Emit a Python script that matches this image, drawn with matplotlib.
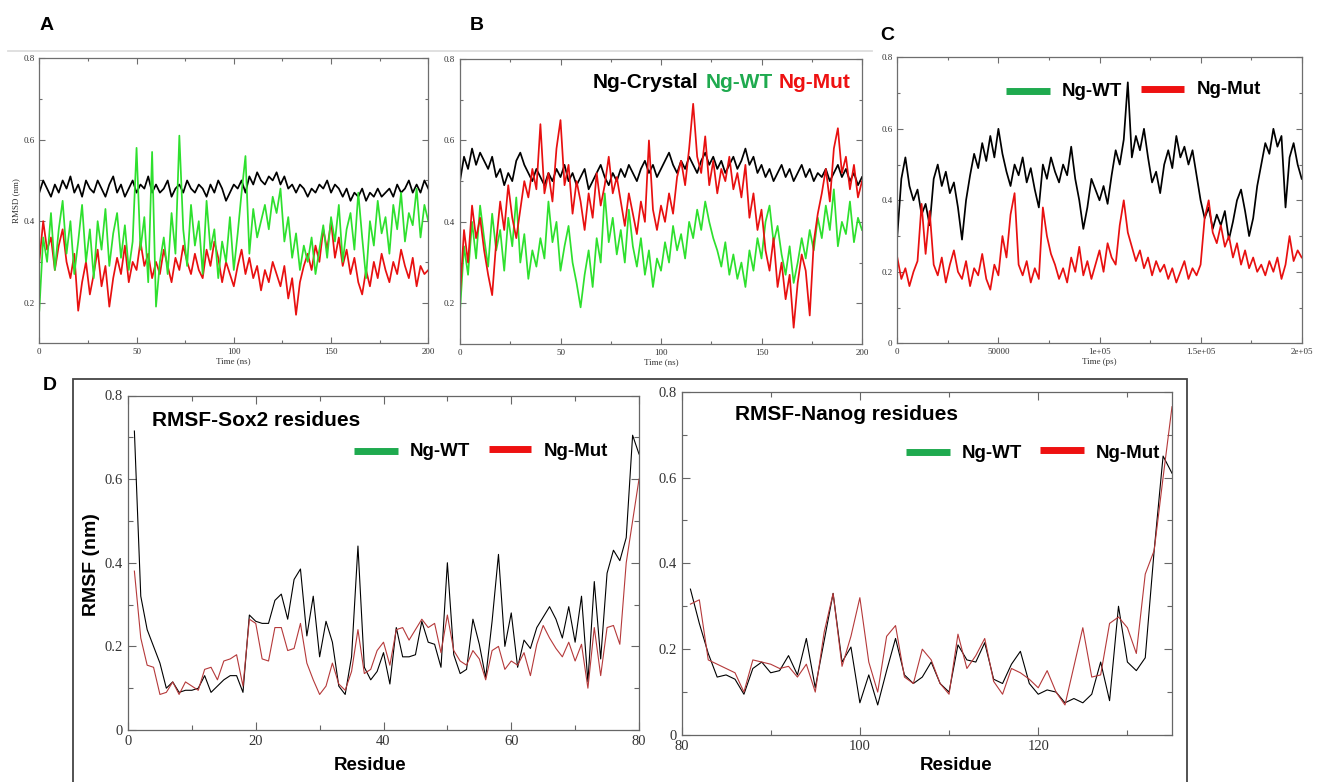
import matplotlib
matplotlib.use("Agg")
import matplotlib.pyplot as plt
import matplotlib.ticker as mticker
from matplotlib.patches import Rectangle
from matplotlib.lines import Line2D
import numpy as np

W, H = 1319, 782

# ---------------- data ----------------
time_ns = np.arange(0, 201, 2)          # panels A and B, 2 ns sampling
time_ps = np.arange(0, 200001, 2000)    # panel C, 2000 ps sampling

a_crystal = [0.47, 0.50, 0.48, 0.46, 0.49, 0.47, 0.50, 0.48, 0.51, 0.47,
             0.49, 0.46, 0.50, 0.48, 0.47, 0.50, 0.48, 0.46, 0.49, 0.51,
             0.47, 0.49, 0.46, 0.48, 0.50, 0.47, 0.49, 0.48, 0.51, 0.47,
             0.49, 0.47, 0.48, 0.50, 0.46, 0.48, 0.49, 0.47, 0.50, 0.48,
             0.47, 0.49, 0.48, 0.46, 0.49, 0.47, 0.50, 0.48, 0.45, 0.47,
             0.49, 0.48, 0.50, 0.47, 0.51, 0.49, 0.52, 0.50, 0.49, 0.51,
             0.50, 0.52, 0.49, 0.51, 0.48, 0.49, 0.47, 0.49, 0.48, 0.46,
             0.48, 0.47, 0.49, 0.48, 0.50, 0.47, 0.49, 0.48, 0.46, 0.48,
             0.45, 0.47, 0.46, 0.48, 0.45, 0.47, 0.46, 0.48, 0.46, 0.47,
             0.48, 0.46, 0.49, 0.47, 0.48, 0.50, 0.47, 0.49, 0.47, 0.50,
             0.48]
a_wt = [0.18, 0.36, 0.30, 0.42, 0.28, 0.38, 0.45, 0.32, 0.40, 0.27,
        0.35, 0.44, 0.30, 0.38, 0.26, 0.40, 0.33, 0.43, 0.29, 0.37,
        0.42, 0.31, 0.39, 0.28, 0.35, 0.58, 0.33, 0.41, 0.25, 0.57,
        0.19, 0.30, 0.36, 0.27, 0.42, 0.32, 0.61, 0.38, 0.29, 0.44,
        0.34, 0.40, 0.27, 0.45, 0.33, 0.38, 0.26, 0.35, 0.30, 0.41,
        0.28, 0.37, 0.47, 0.56, 0.32, 0.43, 0.36, 0.40, 0.44, 0.38,
        0.46, 0.42, 0.48, 0.35, 0.41, 0.31, 0.37, 0.28, 0.34, 0.30,
        0.36, 0.27, 0.33, 0.39, 0.31, 0.41, 0.35, 0.44, 0.30, 0.38,
        0.42, 0.33, 0.47, 0.36, 0.26, 0.40, 0.34, 0.45, 0.37, 0.41,
        0.32, 0.44, 0.38, 0.47, 0.35, 0.42, 0.39, 0.48, 0.36, 0.44,
        0.40]
a_mut = [0.30, 0.40, 0.33, 0.36, 0.28, 0.34, 0.38, 0.30, 0.26, 0.32,
         0.18, 0.25, 0.30, 0.22, 0.27, 0.33, 0.24, 0.29, 0.19, 0.26,
         0.31, 0.27, 0.34, 0.25, 0.30, 0.28, 0.35, 0.29, 0.32, 0.26,
         0.30, 0.27, 0.33, 0.29, 0.25, 0.31, 0.28, 0.34, 0.30, 0.27,
         0.32, 0.28, 0.26, 0.33, 0.29, 0.35, 0.31, 0.25, 0.30, 0.27,
         0.24, 0.29, 0.33, 0.27, 0.31, 0.26, 0.29, 0.23, 0.28, 0.25,
         0.30, 0.27, 0.24, 0.29, 0.21, 0.26, 0.17, 0.25, 0.29, 0.32,
         0.28, 0.34, 0.30, 0.38, 0.33, 0.40, 0.31, 0.36, 0.29, 0.33,
         0.27, 0.31, 0.25, 0.22, 0.28, 0.24, 0.30, 0.26, 0.32, 0.28,
         0.25, 0.30, 0.27, 0.33, 0.29, 0.26, 0.31, 0.24, 0.29, 0.27,
         0.28]

b_crystal = [0.50, 0.56, 0.53, 0.58, 0.54, 0.57, 0.55, 0.53, 0.56, 0.51,
             0.53, 0.49, 0.52, 0.50, 0.55, 0.57, 0.54, 0.52, 0.50, 0.53,
             0.51, 0.49, 0.52, 0.50, 0.53, 0.51, 0.54, 0.50, 0.52, 0.49,
             0.51, 0.53, 0.48, 0.50, 0.52, 0.54, 0.51, 0.49, 0.52, 0.50,
             0.53, 0.51, 0.54, 0.52, 0.50, 0.53, 0.55, 0.52, 0.54, 0.51,
             0.53, 0.55, 0.57, 0.54, 0.52, 0.55, 0.53, 0.56, 0.54, 0.52,
             0.55, 0.57, 0.54, 0.56, 0.53, 0.55, 0.52, 0.54, 0.56, 0.53,
             0.55, 0.58, 0.54, 0.56, 0.52, 0.54, 0.51, 0.53, 0.50, 0.52,
             0.54, 0.51, 0.53, 0.50, 0.52, 0.54, 0.51, 0.53, 0.50, 0.52,
             0.51, 0.53, 0.50, 0.52, 0.54, 0.51, 0.53, 0.50, 0.52, 0.49,
             0.51]
b_wt = [0.18, 0.34, 0.27, 0.40, 0.31, 0.44, 0.36, 0.29, 0.42, 0.33,
        0.38, 0.28, 0.41, 0.34, 0.46, 0.30, 0.37, 0.26, 0.33, 0.29,
        0.36, 0.31, 0.45, 0.35, 0.40, 0.28, 0.34, 0.39, 0.30, 0.25,
        0.19, 0.27, 0.33, 0.24, 0.36, 0.30, 0.47, 0.35, 0.41, 0.32,
        0.38, 0.30, 0.43, 0.34, 0.29, 0.36, 0.27, 0.33, 0.24, 0.31,
        0.28, 0.35, 0.30, 0.39, 0.33, 0.37, 0.31, 0.40, 0.36, 0.43,
        0.38, 0.45, 0.40, 0.36, 0.33, 0.29, 0.35, 0.27, 0.32, 0.26,
        0.30, 0.24, 0.33, 0.28, 0.36, 0.31, 0.40, 0.44, 0.35, 0.39,
        0.32, 0.27, 0.34, 0.25, 0.30, 0.36, 0.31, 0.38, 0.33, 0.41,
        0.36, 0.44, 0.38, 0.48, 0.34, 0.40, 0.37, 0.45, 0.35, 0.41,
        0.38]
b_mut = [0.22, 0.38, 0.30, 0.44, 0.36, 0.41, 0.33, 0.27, 0.22, 0.35,
         0.45, 0.38, 0.49, 0.41, 0.36, 0.43, 0.50, 0.46, 0.53, 0.48,
         0.64, 0.47, 0.52, 0.45, 0.58, 0.65, 0.49, 0.54, 0.42, 0.50,
         0.45, 0.38, 0.47, 0.41, 0.52, 0.44, 0.49, 0.56, 0.47, 0.51,
         0.45, 0.39, 0.47, 0.42, 0.37, 0.45, 0.40, 0.60, 0.43, 0.38,
         0.44, 0.40, 0.47, 0.42, 0.51, 0.55, 0.49, 0.58, 0.69, 0.56,
         0.52, 0.61, 0.49, 0.55, 0.47, 0.53, 0.50, 0.56, 0.48, 0.52,
         0.46, 0.54, 0.41, 0.47, 0.38, 0.43, 0.33, 0.28, 0.36, 0.24,
         0.30, 0.21, 0.27, 0.14, 0.25, 0.32, 0.28, 0.17, 0.35, 0.42,
         0.47, 0.53, 0.45, 0.58, 0.63, 0.52, 0.56, 0.48, 0.54, 0.46,
         0.50]

c_wt = [0.30, 0.46, 0.52, 0.44, 0.40, 0.43, 0.36, 0.39, 0.33, 0.46,
        0.50, 0.44, 0.48, 0.42, 0.45, 0.38, 0.29, 0.40, 0.47, 0.53,
        0.49, 0.56, 0.51, 0.58, 0.52, 0.60, 0.53, 0.48, 0.44, 0.50,
        0.47, 0.52, 0.45, 0.49, 0.43, 0.38, 0.50, 0.46, 0.52, 0.48,
        0.45, 0.50, 0.47, 0.55, 0.46, 0.40, 0.32, 0.38, 0.46, 0.43,
        0.40, 0.44, 0.39, 0.47, 0.54, 0.50, 0.57, 0.73, 0.52, 0.58,
        0.54, 0.60, 0.52, 0.45, 0.48, 0.42, 0.50, 0.54, 0.49, 0.58,
        0.52, 0.55, 0.50, 0.54, 0.47, 0.40, 0.35, 0.38, 0.32, 0.36,
        0.33, 0.37, 0.29, 0.34, 0.40, 0.43, 0.37, 0.30, 0.35, 0.44,
        0.50, 0.56, 0.53, 0.60, 0.55, 0.58, 0.38, 0.52, 0.56, 0.50,
        0.46]
c_mut = [0.24, 0.18, 0.21, 0.16, 0.20, 0.23, 0.39, 0.25, 0.37, 0.22,
         0.19, 0.24, 0.17, 0.22, 0.26, 0.20, 0.18, 0.23, 0.16, 0.21,
         0.19, 0.25, 0.18, 0.15, 0.22, 0.19, 0.30, 0.24, 0.36, 0.42,
         0.22, 0.19, 0.23, 0.17, 0.21, 0.18, 0.38, 0.30, 0.25, 0.22,
         0.18, 0.21, 0.17, 0.24, 0.20, 0.27, 0.19, 0.23, 0.18, 0.22,
         0.26, 0.20, 0.28, 0.24, 0.22, 0.33, 0.40, 0.31, 0.27, 0.23,
         0.26, 0.21, 0.24, 0.19, 0.23, 0.20, 0.22, 0.18, 0.21, 0.17,
         0.20, 0.23, 0.18, 0.21, 0.19, 0.22, 0.35, 0.40, 0.31, 0.28,
         0.33, 0.27, 0.30, 0.24, 0.28, 0.22, 0.26, 0.21, 0.24, 0.20,
         0.22, 0.19, 0.23, 0.20, 0.24, 0.18, 0.22, 0.30, 0.23, 0.26,
         0.24]
c_xticklabels = ["0", "50000", "1e+05", "1.5e+05", "2e+05"]

sox2_res = np.arange(1, 81)
sox2_wt = [0.715, 0.32, 0.24, 0.20, 0.16, 0.10, 0.115, 0.09, 0.095, 0.095,
           0.10, 0.13, 0.09, 0.105, 0.12, 0.13, 0.13, 0.09, 0.275, 0.26,
           0.255, 0.255, 0.31, 0.325, 0.265, 0.36, 0.385, 0.225, 0.32, 0.175,
           0.26, 0.21, 0.105, 0.085, 0.175, 0.44, 0.15, 0.12, 0.14, 0.185,
           0.11, 0.245, 0.175, 0.175, 0.18, 0.26, 0.21, 0.205, 0.15, 0.40,
           0.18, 0.135, 0.145, 0.265, 0.205, 0.125, 0.26, 0.42, 0.20, 0.28,
           0.15, 0.215, 0.195, 0.245, 0.27, 0.295, 0.265, 0.22, 0.295, 0.21,
           0.32, 0.115, 0.355, 0.17, 0.375, 0.43, 0.405, 0.46, 0.705, 0.66]
sox2_mut = [0.38, 0.22, 0.155, 0.15, 0.085, 0.09, 0.115, 0.085, 0.115, 0.105,
            0.095, 0.145, 0.15, 0.12, 0.165, 0.17, 0.18, 0.105, 0.265, 0.255,
            0.17, 0.165, 0.245, 0.245, 0.19, 0.195, 0.255, 0.16, 0.12, 0.085,
            0.105, 0.16, 0.11, 0.095, 0.14, 0.24, 0.135, 0.145, 0.19, 0.21,
            0.155, 0.24, 0.245, 0.215, 0.24, 0.265, 0.245, 0.255, 0.185, 0.275,
            0.19, 0.165, 0.155, 0.19, 0.17, 0.12, 0.19, 0.20, 0.145, 0.165,
            0.155, 0.185, 0.13, 0.205, 0.25, 0.22, 0.195, 0.175, 0.21, 0.165,
            0.205, 0.10, 0.245, 0.13, 0.245, 0.25, 0.205, 0.40, 0.50, 0.60]

nanog_res = np.arange(81, 136)
nanog_wt = [0.34, 0.26, 0.19, 0.135, 0.14, 0.13, 0.095, 0.155, 0.17, 0.145,
            0.15, 0.185, 0.14, 0.225, 0.11, 0.22, 0.33, 0.17, 0.205, 0.075,
            0.14, 0.07, 0.15, 0.225, 0.14, 0.12, 0.135, 0.17, 0.12, 0.10,
            0.21, 0.175, 0.17, 0.215, 0.13, 0.12, 0.165, 0.195, 0.12, 0.095,
            0.105, 0.10, 0.075, 0.085, 0.075, 0.095, 0.17, 0.08, 0.30, 0.17,
            0.15, 0.18, 0.43, 0.65, 0.61]
nanog_mut = [0.305, 0.315, 0.175, 0.165, 0.155, 0.145, 0.10, 0.175, 0.17, 0.165,
             0.155, 0.16, 0.135, 0.165, 0.10, 0.24, 0.33, 0.16, 0.23, 0.32,
             0.17, 0.10, 0.23, 0.255, 0.135, 0.12, 0.20, 0.175, 0.12, 0.095,
             0.235, 0.155, 0.185, 0.225, 0.125, 0.095, 0.155, 0.145, 0.13, 0.11,
             0.15, 0.10, 0.07, 0.16, 0.25, 0.135, 0.14, 0.26, 0.275, 0.25,
             0.19, 0.375, 0.43, 0.60, 0.765]

# ---------------- styling ----------------
plt.rcParams['font.family'] = ['Liberation Serif', 'DejaVu Serif']
SANS = ['Liberation Sans', 'DejaVu Sans']
GREEN_TRACE = '#2ee02e'
RED_TRACE = '#e81010'
LEG_GREEN = '#1faa4f'
LEG_RED = '#ee1111'
SPINE = '#6e6e6e'
TRACE_LW = 1.25


def px_axes(fig, left, top, right, bottom):
    # axes placed from pixel edges of the reference picture
    return fig.add_axes([left / W, 1 - bottom / H, (right - left) / W, (bottom - top) / H])


def fx(x):
    return x / W


def fy(y):
    return 1 - y / H


def style_axes(ax, labelsize, major_len, minor_len, color=SPINE):
    for sp in ax.spines.values():
        sp.set_color(color)
        sp.set_linewidth(0.9)
    ax.tick_params(which='both', direction='in', top=True, right=True,
                   color=color, width=0.8, labelsize=labelsize,
                   labelcolor='#333333')
    ax.tick_params(which='major', length=major_len)
    ax.tick_params(which='minor', length=minor_len)


fig = plt.figure(figsize=(W / 100, H / 100), dpi=100)

# thin grey rule over A and B
fig.add_artist(Line2D([fx(8), fx(872)], [fy(50.7), fy(50.7)], color='#dddddd', lw=1.3))

# ---------------- panel A ----------------
axA = px_axes(fig, 39.3, 58.3, 428.3, 343.3)
axA.plot(time_ns, a_crystal, color='black', lw=TRACE_LW)
axA.plot(time_ns, a_mut, color=RED_TRACE, lw=TRACE_LW)
axA.plot(time_ns, a_wt, color=GREEN_TRACE, lw=TRACE_LW)
axA.set_xlim(0, 200)
axA.set_ylim(0.1, 0.8)
axA.set_yticks([0.2, 0.4, 0.6, 0.8])
axA.yaxis.set_minor_locator(mticker.FixedLocator([0.3, 0.5, 0.7]))
axA.xaxis.set_major_locator(mticker.MultipleLocator(50))
axA.xaxis.set_minor_locator(mticker.MultipleLocator(25))
axA.yaxis.set_major_formatter(mticker.FormatStrFormatter('%.1f'))
style_axes(axA, 6.5, 4.5, 2.5)
axA.set_xlabel('Time (ns)', fontsize=6.5, labelpad=1, color='#333333')
axA.set_ylabel('RMSD (nm)', fontsize=6.5, labelpad=2, color='#333333')

# ---------------- panel B ----------------
axB = px_axes(fig, 460, 59, 862, 344)
axB.plot(time_ns, b_crystal, color='black', lw=TRACE_LW)
axB.plot(time_ns, b_wt, color=GREEN_TRACE, lw=TRACE_LW)
axB.plot(time_ns, b_mut, color=RED_TRACE, lw=TRACE_LW)
axB.set_xlim(0, 200)
axB.set_ylim(0.1, 0.8)
axB.set_yticks([0.2, 0.4, 0.6, 0.8])
axB.yaxis.set_minor_locator(mticker.FixedLocator([0.3, 0.5, 0.7]))
axB.xaxis.set_major_locator(mticker.MultipleLocator(50))
axB.xaxis.set_minor_locator(mticker.MultipleLocator(25))
axB.yaxis.set_major_formatter(mticker.FormatStrFormatter('%.1f'))
style_axes(axB, 6.5, 4.5, 2.5)
axB.set_xlabel('Time (ns)', fontsize=6.5, labelpad=1, color='#333333')

fig.text(fx(593), fy(83), 'Ng-Crystal', family=SANS, weight='bold', fontsize=15,
         color='black', va='center', ha='left')
fig.text(fx(706), fy(83), 'Ng-WT', family=SANS, weight='bold', fontsize=15,
         color=LEG_GREEN, va='center', ha='left')
fig.text(fx(779), fy(83), 'Ng-Mut', family=SANS, weight='bold', fontsize=15,
         color=LEG_RED, va='center', ha='left')

# ---------------- panel C ----------------
axC = px_axes(fig, 897.3, 57.3, 1301.7, 343.3)
axC.plot(time_ps, c_wt, color='black', lw=TRACE_LW)
axC.plot(time_ps, c_mut, color=RED_TRACE, lw=TRACE_LW)
axC.set_xlim(0, 200000)
axC.set_ylim(0, 0.8)
axC.set_xticks([0, 50000, 100000, 150000, 200000])
axC.set_xticklabels(c_xticklabels)
axC.xaxis.set_minor_locator(mticker.MultipleLocator(25000))
axC.set_yticks([0, 0.2, 0.4, 0.6, 0.8])
axC.set_yticklabels(['0', '0.2', '0.4', '0.6', '0.8'])
axC.yaxis.set_minor_locator(mticker.MultipleLocator(0.1))
style_axes(axC, 6.5, 4.5, 2.5)
axC.set_xlabel('Time (ps)', fontsize=6.5, labelpad=1, color='#333333')

fig.add_artist(Line2D([fx(1006), fx(1050)], [fy(91), fy(91)], color=LEG_GREEN, lw=5, solid_capstyle='butt'))
fig.text(fx(1062), fy(92), 'Ng-WT', family=SANS, weight='bold', fontsize=13.5, va='center')
fig.add_artist(Line2D([fx(1141), fx(1184)], [fy(89), fy(89)], color=LEG_RED, lw=5, solid_capstyle='butt'))
fig.text(fx(1197), fy(90), 'Ng-Mut', family=SANS, weight='bold', fontsize=13.5, va='center')

# ---------------- panel D ----------------
fig.add_artist(Rectangle((fx(73), fy(790)), fx(1187) - fx(73), fy(379) - fy(790),
                         fill=False, edgecolor='#444444', lw=1.3))

axD1 = px_axes(fig, 128, 395.5, 639, 730)
axD1.plot(sox2_res, sox2_wt, color='black', lw=0.8)
axD1.plot(sox2_res, sox2_mut, color='#b5393a', lw=0.8)
axD1.set_xlim(0, 80)
axD1.set_ylim(0, 0.8)
axD1.xaxis.set_major_locator(mticker.MultipleLocator(20))
axD1.xaxis.set_minor_locator(mticker.MultipleLocator(10))
axD1.set_yticks([0, 0.2, 0.4, 0.6, 0.8])
axD1.set_yticklabels(['0', '0.2', '0.4', '0.6', '0.8'])
axD1.yaxis.set_minor_locator(mticker.MultipleLocator(0.1))
style_axes(axD1, 10.5, 6, 3.5, color='#666666')

axD2 = px_axes(fig, 681.5, 391.7, 1172, 735)
axD2.plot(nanog_res, nanog_wt, color='black', lw=0.8)
axD2.plot(nanog_res, nanog_mut, color='#b5393a', lw=0.8)
axD2.set_xlim(80, 135)
axD2.set_ylim(0, 0.8)
axD2.set_xticks([80, 100, 120])
axD2.xaxis.set_minor_locator(mticker.FixedLocator([90, 110, 130]))
axD2.set_yticks([0, 0.2, 0.4, 0.6, 0.8])
axD2.set_yticklabels(['0', '0.2', '0.4', '0.6', '0.8'])
axD2.yaxis.set_minor_locator(mticker.MultipleLocator(0.1))
style_axes(axD2, 10.5, 6, 3.5, color='#666666')

fig.text(fx(92), fy(565), 'RMSF (nm)', family=SANS, weight='bold', fontsize=14,
         rotation=90, ha='center', va='center')
fig.text(fx(370), fy(765), 'Residue', family=SANS, weight='bold', fontsize=13.5,
         ha='center', va='center')
fig.text(fx(956), fy(765), 'Residue', family=SANS, weight='bold', fontsize=13.5,
         ha='center', va='center')

fig.text(fx(152), fy(420), 'RMSF-Sox2 residues', family=SANS, weight='bold',
         fontsize=15, ha='left', va='center')
fig.text(fx(735), fy(415), 'RMSF-Nanog residues', family=SANS, weight='bold',
         fontsize=15, ha='left', va='center')

# legend swatches drawn by hand, as in the original
for x0, x1, xt, xm0, xm1, xmt, yl in [(354, 398, 410, 489, 531, 544, 451),
                                       (906, 950, 962, 1040, 1084, 1096, 452)]:
    fig.add_artist(Line2D([fx(x0), fx(x1)], [fy(yl), fy(yl)], color=LEG_GREEN, lw=5,
                          solid_capstyle='butt'))
    fig.text(fx(xt), fy(yl + 1), 'Ng-WT', family=SANS, weight='bold', fontsize=13.5, va='center')
    fig.add_artist(Line2D([fx(xm0), fx(xm1)], [fy(yl - 2), fy(yl - 2)], color=LEG_RED, lw=5,
                          solid_capstyle='butt'))
    fig.text(fx(xmt), fy(yl + 1), 'Ng-Mut', family=SANS, weight='bold', fontsize=13.5, va='center')

# panel letters
for letter, x, y in [('A', 47, 25), ('B', 477, 25), ('C', 887, 36), ('D', 50, 385)]:
    fig.text(fx(x), fy(y), letter, family=SANS, weight='bold', fontsize=14,
             ha='center', va='center')

fig.savefig('out.png', dpi=100)
